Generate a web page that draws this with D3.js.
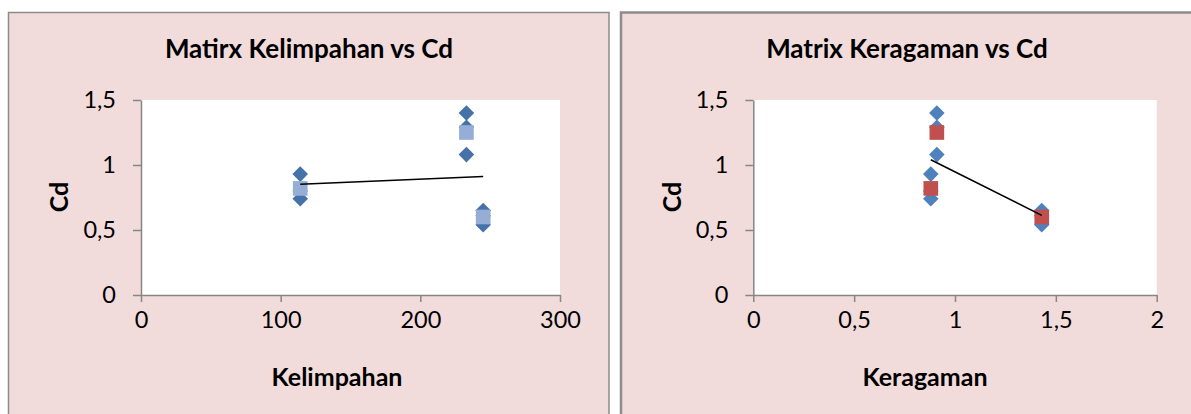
<!DOCTYPE html>
<html><head><meta charset="utf-8">
<script src="https://cdn.jsdelivr.net/npm/d3@7"></script>
<style>
html,body{margin:0;padding:0;background:#fff;}
svg{display:block;font-family:Lato,"Open Sans",sans-serif;}
</style></head><body>
<svg id="c" width="1191" height="414"></svg>
<script>
// ---- data ----
const kelimpahanSites = [114, 233, 245];           // x of each site, chart 1
const keragamanSites  = [0.88, 0.91, 1.43];        // x of each site, chart 2
const cdSamples = [[0.93, 0.80, 0.74], [1.40, 1.29, 1.08], [0.65, 0.61, 0.54]]; // diamonds
const cdMeans   = [0.82, 1.25, 0.60];              // squares
const xTicksKel = [0, 100, 200, 300];
const xTicksKer = [0, 0.5, 1, 1.5, 2];
const yTicks    = [0, 0.5, 1, 1.5];
const titles    = ["Matirx Kelimpahan vs Cd", "Matrix Keragaman vs Cd"];
const xTitles   = ["Kelimpahan", "Keragaman"];
const yTitle    = "Cd";

const loc = d3.formatLocale({decimal: ",", thousands: ".", grouping: [3], currency: ["", ""]});
const fmt = loc.format("~g");

const svg = d3.select("#c");

function regression(xs, ys) {
  const n = xs.length, mx = d3.mean(xs), my = d3.mean(ys);
  let sxy = 0, sxx = 0;
  for (let i = 0; i < n; i++) { sxy += (xs[i]-mx)*(ys[i]-my); sxx += (xs[i]-mx)**2; }
  const b = sxy / sxx, a = my - b*mx;
  return x => a + b*x;
}

function panel(cfg) {
  const g = svg.append("g");
  g.append("rect").attr("x", cfg.px).attr("y", cfg.py).attr("width", cfg.pw).attr("height", cfg.ph)
    .attr("fill", "#F2DCDB").attr("stroke", "#8c8c8c").attr("stroke-width", cfg.bw);
  const x = d3.scaleLinear().domain(cfg.xDomain).range([cfg.l, cfg.r]);
  const y = d3.scaleLinear().domain([0, 1.5]).range([cfg.b, cfg.t]);
  g.append("rect").attr("x", cfg.l).attr("y", cfg.t).attr("width", cfg.r - cfg.l).attr("height", cfg.b - cfg.t).attr("fill", "#fff");

  const ya = g.append("g").attr("transform", `translate(${cfg.l},0)`)
    .call(d3.axisLeft(y).tickValues(yTicks).tickFormat(fmt).tickSizeOuter(0).tickSizeInner(8).tickPadding(17));
  const xa = g.append("g").attr("transform", `translate(0,${cfg.b})`)
    .call(d3.axisBottom(x).tickValues(cfg.xTicks).tickFormat(fmt).tickSizeOuter(0).tickSizeInner(7).tickPadding(9));
  [ya, xa].forEach(a => {
    a.select(".domain").attr("stroke", "#868686").attr("stroke-width", 1.5);
    a.selectAll(".tick line").attr("stroke", "#868686").attr("stroke-width", 1.5);
    a.selectAll(".tick text").attr("fill", "#000").attr("font-size", 23.5).attr("font-family", "Lato");
  });
  xa.selectAll(".tick text").attr("dy", "0.72em");

  // diamonds (individual samples)
  const pts = [];
  cfg.sites.forEach((sx, i) => cdSamples[i].forEach(v => pts.push([cfg.sampleX[i], v])));
  const diamond = d3.symbol(d3.symbolSquare, 122)();
  g.append("g").selectAll("path").data(pts).join("path")
    .attr("d", diamond)
    .attr("transform", d => `translate(${x(d[0])},${y(d[1])}) rotate(45)`)
    .attr("fill", cfg.dColor);
  // squares (means)
  const sq = d3.symbol(d3.symbolSquare, 215)();
  g.append("g").selectAll("path").data(cfg.sites).join("path")
    .attr("d", sq)
    .attr("transform", (d, i) => `translate(${x(d)},${y(cdMeans[i])})`)
    .attr("fill", cfg.sColor);
  // linear trend line of means
  const f = regression(cfg.sites, cdMeans);
  const ex = d3.extent(cfg.sites);
  g.append("path").datum(ex.map(v => [v, f(v)]))
    .attr("d", d3.line().x(d => x(d[0])).y(d => y(d[1])))
    .attr("stroke", "#000").attr("stroke-width", 1.5).attr("fill", "none");

  g.append("text").attr("x", cfg.titleX).attr("y", 58).attr("text-anchor", "middle")
    .attr("font-size", 26).attr("font-weight", "bold").text(cfg.title);
  g.append("text").attr("x", cfg.xtX).attr("y", 386).attr("text-anchor", "middle")
    .attr("font-size", 25).attr("font-weight", "bold").text(cfg.xTitle);
  g.append("text").attr("transform", `translate(${cfg.ytX},197) rotate(-90)`).attr("text-anchor", "middle")
    .attr("dy", "0.36em").attr("font-size", 25).attr("font-weight", "bold").text(yTitle);
}

panel({px: 8.5, py: 12.5, pw: 600.5, ph: 420, bw: 1.5, l: 141, r: 560, t: 100, b: 295,
  xDomain: [0, 300], xTicks: xTicksKel, sites: kelimpahanSites, sampleX: kelimpahanSites,
  dColor: "#4672AA", sColor: "#96AED5", title: titles[0], xTitle: xTitles[0],
  titleX: 309, xtX: 337, ytX: 59});
panel({px: 621, py: 12.5, pw: 620, ph: 420, bw: 2.5, l: 753.3, r: 1156.7, t: 100, b: 295,
  xDomain: [0, 2], xTicks: xTicksKer, sites: keragamanSites, sampleX: keragamanSites,
  dColor: "#4F81BD", sColor: "#C0504D", title: titles[1], xTitle: xTitles[1],
  titleX: 907, xtX: 925, ytX: 672});
</script>
</body></html>
